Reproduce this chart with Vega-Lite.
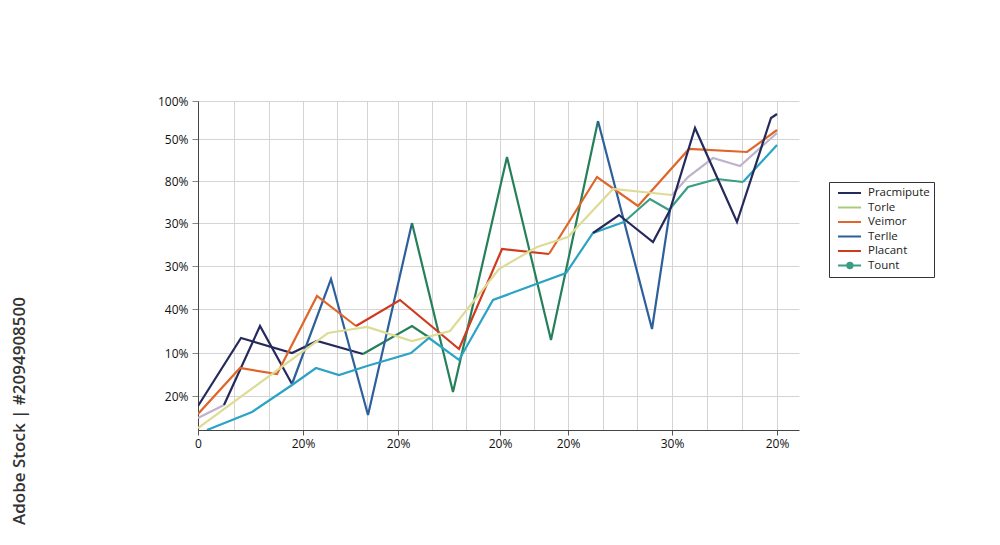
{
  "$schema": "https://vega.github.io/schema/vega-lite/v6.json",
  "description": "Multi-series line chart",
  "width": 601,
  "height": 329,
  "autosize": {"type": "none"},
  "padding": {"left": 198, "top": 101, "right": 201, "bottom": 115},
  "background": "white",
  "title": {
    "text": "Adobe Stock | #2094908500",
    "orient": "left",
    "anchor": "start",
    "offset": 128,
    "dx": -76,
    "font": "Open Sans",
    "fontSize": 17,
    "fontWeight": 600,
    "color": "#333333"
  },
  "data": {
    "values": [
      {"s": "Pracmipute", "g": "a", "x": 0, "y": 24},
      {"s": "Pracmipute", "g": "a", "x": 43, "y": 92},
      {"s": "Pracmipute", "g": "a", "x": 94, "y": 77},
      {"s": "Pracmipute", "g": "a", "x": 119, "y": 89},
      {"s": "Pracmipute", "g": "a", "x": 165, "y": 76},
      {"s": "DarkGreen", "g": "b", "x": 165, "y": 76},
      {"s": "DarkGreen", "g": "b", "x": 214, "y": 104},
      {"s": "DarkGreen", "g": "b", "x": 232, "y": 92},
      {"s": "Lilac", "g": "c", "x": 0, "y": 12},
      {"s": "Lilac", "g": "c", "x": 26, "y": 25},
      {"s": "Pracmipute", "g": "d", "x": 26, "y": 25},
      {"s": "Pracmipute", "g": "d", "x": 62, "y": 104},
      {"s": "Pracmipute", "g": "d", "x": 94, "y": 46},
      {"s": "Terlle", "g": "e", "x": 94, "y": 46},
      {"s": "Terlle", "g": "e", "x": 133, "y": 151},
      {"s": "Terlle", "g": "e", "x": 170, "y": 15},
      {"s": "Terlle", "g": "e", "x": 214, "y": 207},
      {"s": "DarkGreen", "g": "f", "x": 214, "y": 207},
      {"s": "DarkGreen", "g": "f", "x": 255, "y": 38},
      {"s": "DarkGreen", "g": "f", "x": 309, "y": 273},
      {"s": "DarkGreen", "g": "f", "x": 353, "y": 90},
      {"s": "DarkGreen", "g": "f", "x": 400, "y": 309},
      {"s": "Terlle", "g": "g", "x": 400, "y": 309},
      {"s": "Terlle", "g": "g", "x": 454, "y": 101},
      {"s": "Terlle", "g": "g", "x": 472, "y": 220},
      {"s": "Veimor", "g": "i", "x": 0, "y": 16},
      {"s": "Veimor", "g": "i", "x": 42, "y": 62},
      {"s": "Veimor", "g": "i", "x": 79, "y": 56},
      {"s": "Veimor", "g": "i", "x": 119, "y": 134},
      {"s": "Veimor", "g": "i", "x": 158, "y": 104},
      {"s": "Placant", "g": "j", "x": 158, "y": 104},
      {"s": "Placant", "g": "j", "x": 202, "y": 130},
      {"s": "Placant", "g": "j", "x": 261, "y": 81},
      {"s": "Placant", "g": "j", "x": 304, "y": 181},
      {"s": "Placant", "g": "j", "x": 351, "y": 176},
      {"s": "Veimor", "g": "k", "x": 351, "y": 176},
      {"s": "Veimor", "g": "k", "x": 399, "y": 253},
      {"s": "Veimor", "g": "k", "x": 440, "y": 224},
      {"s": "Veimor", "g": "k", "x": 491, "y": 281},
      {"s": "Veimor", "g": "k", "x": 549, "y": 278},
      {"s": "Veimor", "g": "k", "x": 579, "y": 300},
      {"s": "Sand", "g": "l", "x": 0, "y": 2},
      {"s": "Sand", "g": "l", "x": 130, "y": 97},
      {"s": "Sand", "g": "l", "x": 169, "y": 103},
      {"s": "Sand", "g": "l", "x": 214, "y": 89},
      {"s": "Sand", "g": "l", "x": 252, "y": 99},
      {"s": "Sand", "g": "l", "x": 301, "y": 161},
      {"s": "Sand", "g": "l", "x": 339, "y": 183},
      {"s": "Sand", "g": "l", "x": 370, "y": 193},
      {"s": "Sand", "g": "l", "x": 415, "y": 241},
      {"s": "Sand", "g": "l", "x": 474, "y": 235},
      {"s": "Lilac", "g": "m", "x": 474, "y": 235},
      {"s": "Lilac", "g": "m", "x": 490, "y": 253},
      {"s": "Lilac", "g": "m", "x": 515, "y": 272},
      {"s": "Lilac", "g": "m", "x": 542, "y": 264},
      {"s": "Lilac", "g": "m", "x": 579, "y": 297},
      {"s": "Cyan", "g": "n", "x": 9, "y": 0},
      {"s": "Cyan", "g": "n", "x": 54, "y": 18},
      {"s": "Cyan", "g": "n", "x": 94, "y": 45},
      {"s": "Cyan", "g": "n", "x": 118, "y": 62},
      {"s": "Cyan", "g": "n", "x": 141, "y": 55},
      {"s": "Cyan", "g": "n", "x": 169, "y": 64},
      {"s": "Cyan", "g": "n", "x": 213, "y": 77},
      {"s": "Cyan", "g": "n", "x": 231, "y": 92},
      {"s": "Cyan", "g": "n", "x": 261, "y": 70},
      {"s": "Cyan", "g": "n", "x": 295, "y": 130},
      {"s": "Cyan", "g": "n", "x": 368, "y": 157},
      {"s": "Cyan", "g": "n", "x": 395, "y": 197},
      {"s": "Cyan", "g": "n", "x": 426, "y": 208},
      {"s": "Tount", "g": "o", "x": 426, "y": 208},
      {"s": "Tount", "g": "o", "x": 452, "y": 231},
      {"s": "Tount", "g": "o", "x": 471, "y": 220},
      {"s": "Tount", "g": "o", "x": 490, "y": 243},
      {"s": "Tount", "g": "o", "x": 519, "y": 251},
      {"s": "Tount", "g": "o", "x": 545, "y": 248},
      {"s": "Cyan", "g": "p", "x": 545, "y": 248},
      {"s": "Cyan", "g": "p", "x": 579, "y": 285},
      {"s": "Pracmipute", "g": "h", "x": 395, "y": 197},
      {"s": "Pracmipute", "g": "h", "x": 421, "y": 215},
      {"s": "Pracmipute", "g": "h", "x": 455, "y": 188},
      {"s": "Pracmipute", "g": "h", "x": 472, "y": 220},
      {"s": "Pracmipute", "g": "h", "x": 497, "y": 302},
      {"s": "Pracmipute", "g": "h", "x": 539, "y": 208},
      {"s": "Pracmipute", "g": "h", "x": 573, "y": 312},
      {"s": "Pracmipute", "g": "h", "x": 579, "y": 316}
    ]
  },
  "mark": {"type": "line", "strokeWidth": 2.2, "strokeJoin": "miter", "clip": true},
  "encoding": {
    "x": {
      "field": "x",
      "type": "quantitative",
      "scale": {"domain": [0, 601], "nice": false, "zero": false},
      "axis": {
        "title": null,
        "values": [0, 36, 71, 105, 139, 169, 200, 234, 268, 302, 336, 370, 405, 439, 474, 509, 544, 579],
        "labelExpr": "datum.value == 0 ? '0' : (datum.value == 474 ? '30%' : ((datum.value == 105 || datum.value == 200 || datum.value == 302 || datum.value == 370 || datum.value == 579) ? '20%' : ''))",
        "tickOpacity": {"condition": {"test": "datum.value == 0 || datum.value == 105 || datum.value == 200 || datum.value == 302 || datum.value == 370 || datum.value == 474 || datum.value == 579", "value": 1}, "value": 0},
        "tickSize": 5,
        "tickColor": "#555555",
        "labelPadding": 3,
        "labelFlush": false,
        "labelOverlap": false
      }
    },
    "y": {
      "field": "y",
      "type": "quantitative",
      "scale": {"domain": [0, 329], "nice": false, "zero": false},
      "axis": {
        "title": null,
        "values": [34, 77, 121, 164, 207, 249, 291, 329],
        "labelExpr": "datum.value == 34 ? '20%' : datum.value == 77 ? '10%' : datum.value == 121 ? '40%' : (datum.value == 164 || datum.value == 207) ? '30%' : datum.value == 249 ? '80%' : datum.value == 291 ? '50%' : '100%'",
        "tickSize": 6,
        "tickColor": "#888888",
        "labelPadding": 4,
        "labelFlush": false,
        "labelOverlap": false
      }
    },
    "detail": {"field": "g"},
    "color": {
      "field": "s",
      "type": "nominal",
      "scale": {
        "domain": ["Pracmipute", "Torle", "Veimor", "Terlle", "Placant", "Tount", "DarkGreen", "Lilac", "Sand", "Cyan"],
        "range": ["#252a5c", "#a9cd7c", "#e0652a", "#2d5f9c", "#cf3b1f", "#3a9e84", "#25805a", "#bdb4cc", "#dedb96", "#2ba3c4"]
      },
      "legend": {
        "title": null,
        "values": ["Pracmipute", "Torle", "Veimor", "Terlle", "Placant", "Tount"],
        "orient": "none",
        "legendX": 631,
        "legendY": 81,
        "padding": 4,
        "strokeColor": "#333333",
        "fillColor": "white",
        "symbolType": "M-0.33,0H3.5",
        "symbolSize": 144,
        "symbolStrokeWidth": 2,
        "labelOffset": 21,
        "labelFont": "Open Sans",
        "labelFontSize": 11.5,
        "labelColor": "#222222",
        "rowPadding": 1.5,
        "encode": {
          "symbols": {
            "update": {
              "shape": {"signal": "datum.value === 'Tount' ? 'M-0.33,0H3.5M2.1,0A0.45,0.45 0 1,1 1.2,0A0.45,0.45 0 1,1 2.1,0' : 'M-0.33,0H3.5'"},
              "fill": {"signal": "datum.value === 'Tount' ? '#3a9e84' : 'transparent'"}
            }
          }
        }
      }
    }
  },
  "config": {
    "view": {"stroke": null},
    "axis": {
      "grid": true,
      "gridColor": "#d4d4d4",
      "gridWidth": 1,
      "domainColor": "#444444",
      "domainWidth": 1,
      "labelFont": "Open Sans",
      "labelFontSize": 12,
      "labelColor": "#111111"
    }
  }
}
